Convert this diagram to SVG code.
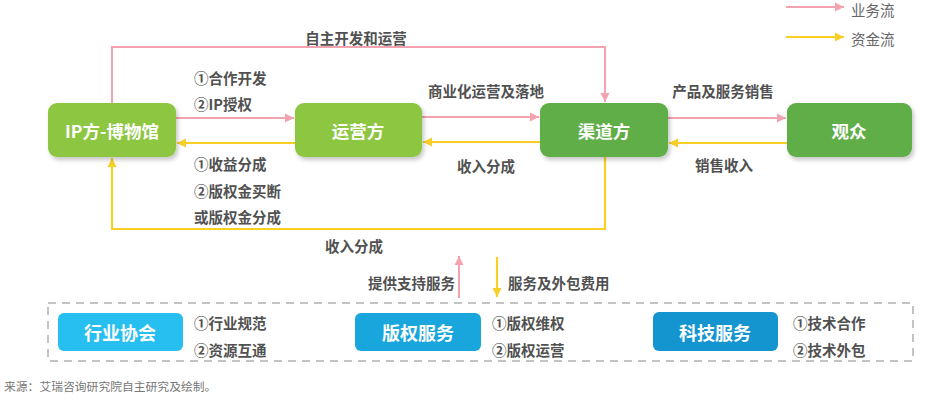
<svg xmlns="http://www.w3.org/2000/svg" width="932" height="395" viewBox="0 0 932 395">
<style>
.lbl{font-family:"Noto Sans CJK SC","Noto Sans",sans-serif;font-size:14.5px;font-weight:bold;fill:#515151;dominant-baseline:central}
.ntx{font-family:"Noto Sans CJK SC","Noto Sans",sans-serif;font-size:17.5px;font-weight:bold;fill:#fff;text-anchor:middle;dominant-baseline:central}
.btx{font-family:"Noto Sans CJK SC","Noto Sans",sans-serif;font-size:18px;font-weight:bold;fill:#fff;text-anchor:middle;dominant-baseline:central}
.leg{font-family:"Noto Sans CJK SC","Noto Sans",sans-serif;font-size:14.5px;fill:#666;dominant-baseline:central}
.src{font-family:"Noto Sans CJK SC","Noto Sans",sans-serif;font-size:11.8px;fill:#777;dominant-baseline:central}
.pk{stroke:#f3a3b0;stroke-width:2;fill:none;marker-end:url(#ap)}
.yl{stroke:#f9cf26;stroke-width:2.2;fill:none;marker-end:url(#ay)}
.mid{text-anchor:middle}
</style>
<defs>
<marker id="ap" markerWidth="10" markerHeight="10" refX="9" refY="5" orient="auto" markerUnits="userSpaceOnUse">
<path d="M0,0.5 L9,5 L0,9.5 Z" fill="#f3a3b0"/>
</marker>
<marker id="ay" markerWidth="10" markerHeight="10" refX="9" refY="5" orient="auto" markerUnits="userSpaceOnUse">
<path d="M0,0.5 L9,5 L0,9.5 Z" fill="#f9cf26"/>
</marker>
<filter id="sh" x="-10%" y="-10%" width="125%" height="135%">
<feDropShadow dx="2" dy="3" stdDeviation="2" flood-color="#000" flood-opacity="0.22"/>
</filter>
</defs>

<g id="legend">
<line class="pk" x1="786" y1="7" x2="844" y2="7"/>
<text class="leg" x="851" y="9">业务流</text>
<line class="yl" x1="786" y1="37" x2="844" y2="37"/>
<text class="leg" x="851" y="38">资金流</text>
</g>

<g id="connectors">
<polyline class="pk" points="112,103 112,47 605,47 605,102"/>
<line class="pk" x1="176" y1="118" x2="294" y2="118"/>
<line class="yl" x1="295" y1="143" x2="177" y2="143"/>
<line class="pk" x1="422" y1="117" x2="539" y2="117"/>
<line class="yl" x1="540" y1="142" x2="423" y2="142"/>
<line class="pk" x1="668" y1="118" x2="786" y2="118"/>
<line class="yl" x1="787" y1="143" x2="669" y2="143"/>
<polyline class="yl" points="605,157 605,229 112,229 112,158"/>
<line class="pk" x1="459" y1="298" x2="459" y2="256"/>
<line class="yl" x1="497" y1="257" x2="497" y2="297"/>
<text class="lbl mid" x="356" y="37">自主开发和运营</text>
<text class="lbl" x="194" y="77">①合作开发</text>
<text class="lbl" x="194" y="103">②IP授权</text>
<text class="lbl" x="194" y="163">①收益分成</text>
<text class="lbl" x="194" y="190">②版权金买断</text>
<text class="lbl" x="194" y="216">或版权金分成</text>
<text class="lbl mid" x="486" y="90">商业化运营及落地</text>
<text class="lbl mid" x="486" y="165">收入分成</text>
<text class="lbl mid" x="723" y="90">产品及服务销售</text>
<text class="lbl mid" x="724" y="164">销售收入</text>
<text class="lbl mid" x="354" y="245">收入分成</text>
<text class="lbl" x="455" y="282" text-anchor="end">提供支持服务</text>
<text class="lbl" x="508" y="282">服务及外包费用</text>
</g>

<g id="node-ip">
<rect x="48" y="103" width="128" height="54" rx="9" fill="#8dc63f" filter="url(#sh)"/>
<text class="ntx" x="112" y="130">IP方-博物馆</text>
</g>
<g id="node-operator">
<rect x="295" y="103" width="127" height="54" rx="9" fill="#8dc63f" filter="url(#sh)"/>
<text class="ntx" x="358" y="130">运营方</text>
</g>
<g id="node-channel">
<rect x="540" y="103" width="128" height="54" rx="9" fill="#5fae46" filter="url(#sh)"/>
<text class="ntx" x="604" y="130">渠道方</text>
</g>
<g id="node-audience">
<rect x="787" y="103" width="125" height="54" rx="9" fill="#5fae46" filter="url(#sh)"/>
<text class="ntx" x="849" y="130">观众</text>
</g>

<g id="support-box">
<rect x="48" y="303" width="865" height="58" fill="none" stroke="#c4c4c4" stroke-width="2" stroke-dasharray="8,6"/>
</g>
<g id="node-assoc">
<rect x="58" y="313" width="125" height="38" rx="6" fill="#27bef0"/>
<text class="btx" x="120" y="332">行业协会</text>
<text class="lbl" x="194" y="322">①行业规范</text>
<text class="lbl" x="194" y="349">②资源互通</text>
</g>
<g id="node-copyright">
<rect x="355" y="313" width="126" height="38" rx="6" fill="#18a6dd"/>
<text class="btx" x="418" y="332">版权服务</text>
<text class="lbl" x="492" y="322">①版权维权</text>
<text class="lbl" x="492" y="349">②版权运营</text>
</g>
<g id="node-tech">
<rect x="653" y="312" width="125" height="39" rx="6" fill="#1495cf"/>
<text class="btx" x="715" y="332">科技服务</text>
<text class="lbl" x="793" y="322">①技术合作</text>
<text class="lbl" x="793" y="349">②技术外包</text>
</g>

<text class="src" x="4" y="385">来源：艾瑞咨询研究院自主研究及绘制。</text>
</svg>
